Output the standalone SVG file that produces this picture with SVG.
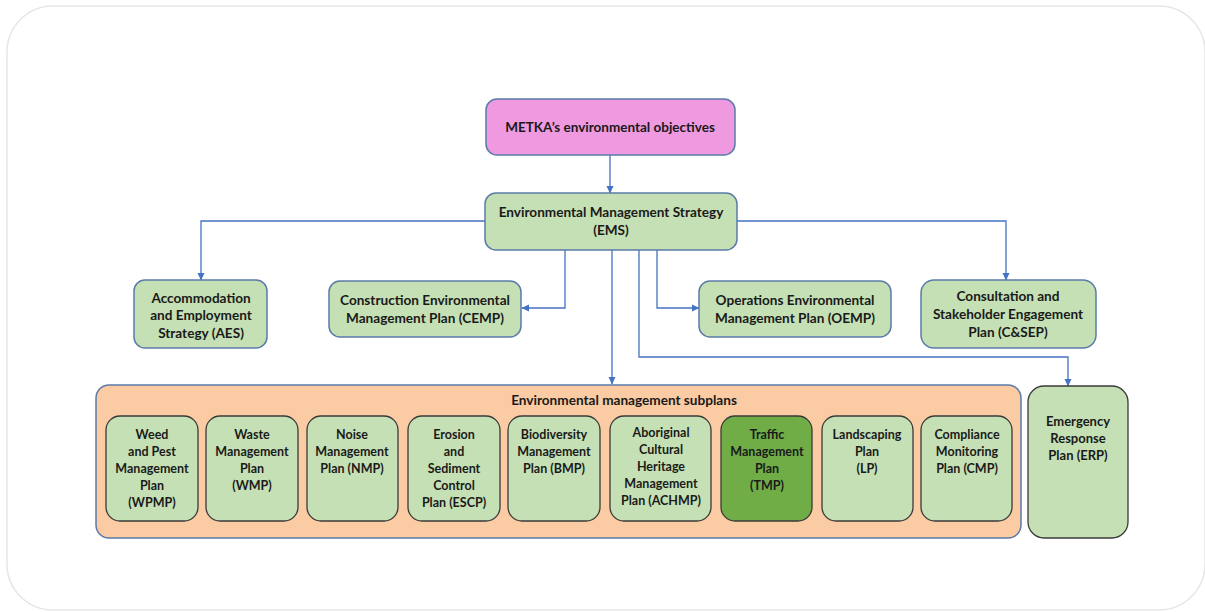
<svg xmlns="http://www.w3.org/2000/svg" width="1205" height="612" viewBox="0 0 1205 612">
<defs>
<marker id="arr" markerWidth="8" markerHeight="8" refX="7" refY="4" orient="auto" markerUnits="userSpaceOnUse">
<path d="M0,0.5 L7.5,4 L0,7.5 Z" fill="#4472C4"/>
</marker>
<style>
.t{font-family:Lato,"Open Sans","Liberation Sans",sans-serif;font-weight:bold;font-size:12.5px;fill:#1a1a1a;text-anchor:middle}
.b{font-size:13.6px}
.g{fill:#C5E0B4;stroke:#5B7BA8;stroke-width:1.5}
.s{fill:#C5E0B4;stroke:#3a3a3a;stroke-width:1.3}
.c{fill:none;stroke:#4472C4;stroke-width:1.3;marker-end:url(#arr)}
</style>
</defs>
<rect x="0" y="0" width="1205" height="612" fill="#ffffff"/>
<rect x="7" y="6" width="1198" height="604" rx="46" fill="#ffffff" stroke="#e6e6e6" stroke-width="1.5"/>

<g id="connectors">
<path class="c" d="M610,155 V193"/>
<path class="c" d="M485,221 H201 V280"/>
<path class="c" d="M737,221 H1006 V280"/>
<path class="c" d="M565,250 V308 H522"/>
<path class="c" d="M657,250 V308 H699"/>
<path class="c" d="M612,250 V384"/>
<path class="c" d="M639,250 V357 H1068 V386"/>
</g>

<g id="metka">
<rect x="486" y="99" width="249" height="56" rx="11" fill="#EE99E0" stroke="#5B7BA8" stroke-width="1.5"/>
<text class="t" x="610" y="132" style="font-size:13.5px">METKA’s environmental objectives</text>
</g>
<g id="ems">
<rect class="g" x="485" y="193" width="252" height="57" rx="11"/>
<text class="t b" x="611" y="217">Environmental Management Strategy</text>
<text class="t b" x="611" y="235">(EMS)</text>
</g>
<g id="aes">
<rect class="g" x="134" y="280" width="133" height="68" rx="11"/>
<text class="t b" x="201" y="303">Accommodation</text>
<text class="t b" x="201" y="320">and Employment</text>
<text class="t b" x="201" y="338">Strategy (AES)</text>
</g>
<g id="cemp">
<rect class="g" x="329" y="281" width="192" height="56" rx="11"/>
<text class="t b" x="425" y="305">Construction Environmental</text>
<text class="t b" x="425" y="323">Management Plan (CEMP)</text>
</g>
<g id="oemp">
<rect class="g" x="699" y="281" width="192" height="56" rx="11"/>
<text class="t b" x="795" y="305">Operations Environmental</text>
<text class="t b" x="795" y="323">Management Plan (OEMP)</text>
</g>
<g id="csep">
<rect class="g" x="921" y="280" width="175" height="68" rx="13"/>
<text class="t b" x="1008" y="301">Consultation and</text>
<text class="t b" x="1008" y="319">Stakeholder Engagement</text>
<text class="t b" x="1008" y="337">Plan (C&amp;SEP)</text>
</g>

<g id="subplans">
<rect x="96" y="385" width="925" height="153" rx="13" fill="#FBCBA3" stroke="#5B7BA8" stroke-width="1.5"/>
<text class="t b" x="624" y="405">Environmental management subplans</text>
</g>
<g id="wpmp">
<rect class="s" x="106" y="416" width="92" height="105" rx="14"/>
<text class="t" x="152" y="439">Weed</text>
<text class="t" x="152" y="456">and Pest</text>
<text class="t" x="152" y="473">Management</text>
<text class="t" x="152" y="490">Plan</text>
<text class="t" x="152" y="507">(WPMP)</text>
</g>
<g id="wmp">
<rect class="s" x="206" y="416" width="92" height="105" rx="14"/>
<text class="t" x="252" y="439">Waste</text>
<text class="t" x="252" y="456">Management</text>
<text class="t" x="252" y="473">Plan</text>
<text class="t" x="252" y="490">(WMP)</text>
</g>
<g id="nmp">
<rect class="s" x="307" y="416" width="91" height="105" rx="14"/>
<text class="t" x="352" y="439">Noise</text>
<text class="t" x="352" y="456">Management</text>
<text class="t" x="352" y="473">Plan (NMP)</text>
</g>
<g id="escp">
<rect class="s" x="408" y="416" width="92" height="105" rx="14"/>
<text class="t" x="454" y="439">Erosion</text>
<text class="t" x="454" y="456">and</text>
<text class="t" x="454" y="473">Sediment</text>
<text class="t" x="454" y="490">Control</text>
<text class="t" x="454" y="507">Plan (ESCP)</text>
</g>
<g id="bmp">
<rect class="s" x="508" y="416" width="92" height="105" rx="14"/>
<text class="t" x="554" y="439">Biodiversity</text>
<text class="t" x="554" y="456">Management</text>
<text class="t" x="554" y="473">Plan (BMP)</text>
</g>
<g id="achmp">
<rect class="s" x="610" y="416" width="101" height="105" rx="14"/>
<text class="t" x="661" y="437">Aboriginal</text>
<text class="t" x="661" y="454">Cultural</text>
<text class="t" x="661" y="471">Heritage</text>
<text class="t" x="661" y="488">Management</text>
<text class="t" x="661" y="505">Plan (ACHMP)</text>
</g>
<g id="tmp">
<rect x="721" y="416" width="91" height="105" rx="14" fill="#70AD47" stroke="#3a3a3a" stroke-width="1.3"/>
<text class="t" x="767" y="439">Traffic</text>
<text class="t" x="767" y="456">Management</text>
<text class="t" x="767" y="473">Plan</text>
<text class="t" x="767" y="490">(TMP)</text>
</g>
<g id="lp">
<rect class="s" x="822" y="416" width="91" height="105" rx="14"/>
<text class="t" x="867" y="439">Landscaping</text>
<text class="t" x="867" y="456">Plan</text>
<text class="t" x="867" y="473">(LP)</text>
</g>
<g id="cmp">
<rect class="s" x="921" y="416" width="91" height="105" rx="14"/>
<text class="t" x="967" y="439">Compliance</text>
<text class="t" x="967" y="456">Monitoring</text>
<text class="t" x="967" y="473">Plan (CMP)</text>
</g>
<g id="erp">
<rect class="s" x="1028" y="386" width="100" height="152" rx="16"/>
<text class="t" x="1078" y="426" style="font-size:13px">Emergency</text>
<text class="t" x="1078" y="443" style="font-size:13px">Response</text>
<text class="t" x="1078" y="460" style="font-size:13px">Plan (ERP)</text>
</g>
</svg>
